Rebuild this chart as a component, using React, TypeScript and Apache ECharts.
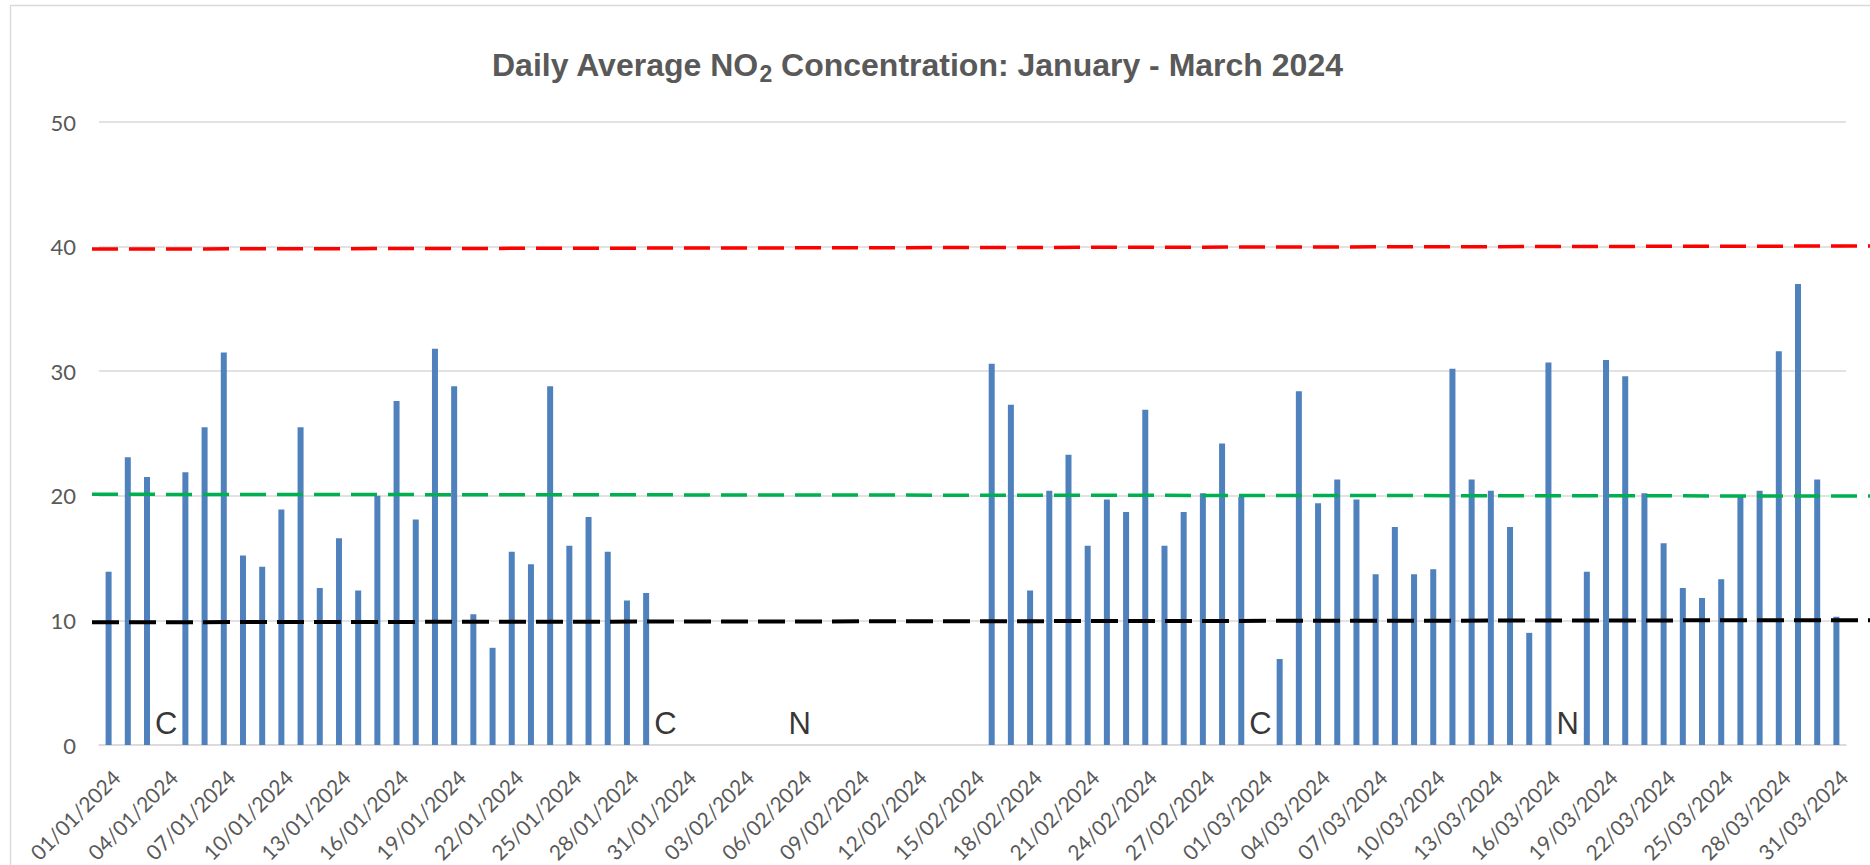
import React, { useEffect, useRef } from 'react';
import * as echarts from 'echarts';

// Categories: every day from 01/01/2024 to 31/03/2024
const monthCodes = ['01', '02', '03'];
const monthLengths = [31, 29, 31];
const categories: string[] = [];
monthCodes.forEach((m, i) => {
  for (let d = 1; d <= monthLengths[i]; d++) {
    categories.push(`${String(d).padStart(2, '0')}/${m}/2024`);
  }
});

// Daily average NO2 (µg/m³), null = no data
const janValues = [
  13.9, 23.1, 21.5, null, 21.9, 25.5, 31.5, 15.2, 14.3, 18.9, 25.5, 12.6, 16.6, 12.4, 20.0, 27.6,
  18.1, 31.8, 28.8, 10.5, 7.8, 15.5, 14.5, 28.8, 16.0, 18.3, 15.5, 11.6, 12.2, null, null,
];
const febValues = [
  null, null, null, null, null, null, null, null, null, null, null, null, null, null, null,
  30.6, 27.3, 12.4, 20.4, 23.3, 16.0, 19.7, 18.7, 26.9, 16.0, 18.7, 20.2, 24.2, 19.9,
];
const marValues = [
  null, 6.9, 28.4, 19.4, 21.3, 19.7, 13.7, 17.5, 13.7, 14.1, 30.2, 21.3, 20.4, 17.5, 9.0, 30.7,
  null, 13.9, 30.9, 29.6, 20.2, 16.2, 12.6, 11.8, 13.3, 19.9, 20.4, 31.6, 37.0, 21.3, 10.3,
];
const no2Values = [...janValues, ...febValues, ...marValues];

// Annotated days without data
const noteDates = ['04/01/2024', '30/01/2024', '06/02/2024', '01/03/2024', '17/03/2024'];
const noteLetters = ['C', 'C', 'N', 'C', 'N'];

// Reference lines (start value, end value)
const redLine = [39.8, 40.05];
const greenLine = [20.12, 19.98];
const blackLine = [9.85, 10.02];

const yMin = 0;
const yMax = 50;
const yStep = 10;

export default function App() {
  const ref = useRef<HTMLDivElement>(null);

  useEffect(() => {
    if (!ref.current) return;
    const chart = echarts.init(ref.current, undefined, { renderer: 'svg' });

    const refLine = (vals: number[], color: string, width: number, dash: number[]) => ({
      type: 'line',
      xAxisIndex: 1,
      yAxisIndex: 1,
      data: [
        [0, vals[0]],
        [1, vals[1]],
      ],
      symbol: 'none',
      silent: true,
      z: 4,
      lineStyle: { color, width, type: dash },
    });

    chart.setOption({
      animation: false,
      backgroundColor: '#ffffff',
      title: {
        text: '{a|Daily Average NO}{s|2}{a| Concentration: January - March 2024}',
        left: 492,
        top: 45,
        padding: 0,
        textStyle: {
          rich: {
            a: {
              fontFamily: 'Liberation Sans',
              fontSize: 32,
              fontWeight: 'bold',
              color: '#595959',
              lineHeight: 40,
            },
            s: {
              fontFamily: 'Liberation Sans',
              fontSize: 23,
              fontWeight: 'bold',
              color: '#595959',
              lineHeight: 13,
              verticalAlign: 'bottom',
            },
          },
        },
      },
      graphic: [
        {
          type: 'rect',
          silent: true,
          shape: { x: 10.5, y: 5.5, width: 2000, height: 1000 },
          style: { fill: 'none', stroke: '#d9d9d9', lineWidth: 1.3 },
        },
      ],
      grid: [
        { left: 99, right: 24, top: 122, bottom: 120, outerBoundsMode: 'none' },
        { left: 92, right: 0, top: 122, bottom: 120, outerBoundsMode: 'none' },
      ],
      xAxis: [
        {
          type: 'category',
          data: categories,
          boundaryGap: true,
          axisLine: { lineStyle: { color: '#d9d9d9', width: 1.5 } },
          axisTick: { interval: 2, length: 6, lineStyle: { color: '#d9d9d9', width: 1.5 } },
          axisLabel: {
            interval: 2,
            rotate: 45,
            margin: 21,
            verticalAlign: 'top',
            color: '#595959',
            fontFamily: 'Lato',
            fontSize: 21,
          },
          splitLine: { show: false },
        },
        { gridIndex: 1, type: 'value', min: 0, max: 1, show: false },
      ],
      yAxis: [
        {
          type: 'value',
          min: yMin,
          max: yMax,
          interval: yStep,
          axisLine: { show: false },
          axisTick: { show: false },
          axisLabel: { margin: 23, color: '#595959', fontFamily: 'Lato', fontSize: 22 },
          splitLine: { lineStyle: { color: '#d9d9d9', width: 1.5 } },
        },
        { gridIndex: 1, type: 'value', min: yMin, max: yMax, show: false },
      ],
      series: [
        {
          type: 'bar',
          name: 'NO2',
          data: no2Values,
          barWidth: 6,
          itemStyle: { color: '#4f81bd' },
          z: 2,
        },
        {
          type: 'scatter',
          data: noteDates.map((d, i) => ({ name: noteLetters[i], value: [d, 0] })),
          symbolSize: 1,
          itemStyle: { color: 'rgba(0,0,0,0)' },
          silent: true,
          z: 5,
          label: {
            show: true,
            formatter: '{b}',
            position: 'inside',
            offset: [0, -22],
            color: '#000000',
            fontFamily: 'Liberation Sans',
            fontSize: 31,
          },
        },
        refLine(redLine, '#ff0000', 3.5, [26, 11]),
        refLine(greenLine, '#00b050', 3.5, [26, 11]),
        refLine(blackLine, '#000000', 4, [27, 10]),
      ],
    });

    return () => chart.dispose();
  }, []);

  return (
    <div
      ref={ref}
      style={{ position: 'fixed', left: 0, top: 0, width: 1870, height: 865 }}
    />
  );
}
